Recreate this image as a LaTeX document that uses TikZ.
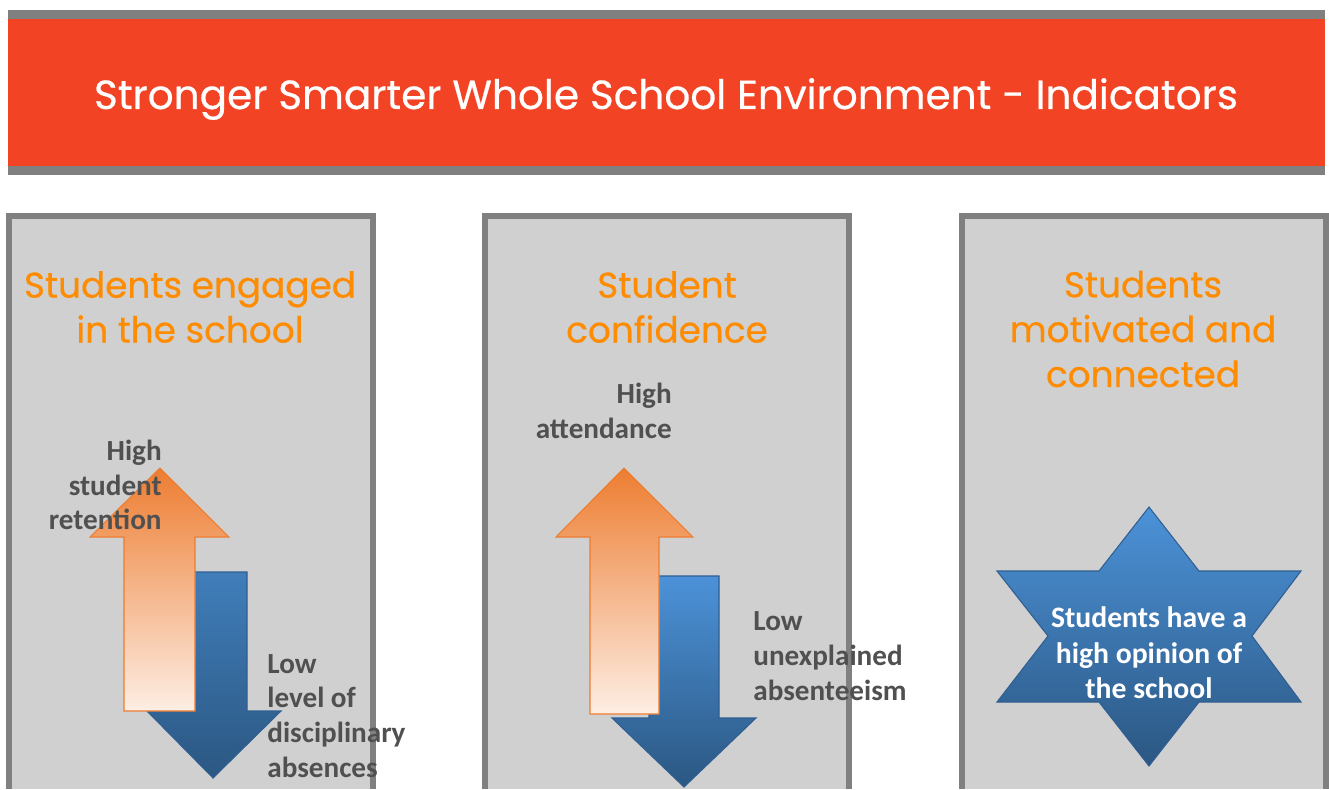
\documentclass[tikz,border=0pt]{standalone}
\usepackage{fontspec}
\usepackage{tikz}
\setmainfont{Carlito}
\newfontfamily\headfont[FakeBold=0.5]{Poppins}
\definecolor{banner}{RGB}{242,67,36}
\definecolor{edgegray}{RGB}{128,128,128}
\definecolor{panelfill}{RGB}{208,208,208}
\definecolor{headorange}{RGB}{255,140,0}
\definecolor{labelgray}{RGB}{80,80,80}
\definecolor{uptop}{RGB}{237,125,49}
\definecolor{upbottom}{RGB}{253,238,228}
\definecolor{downtop}{RGB}{64,126,186}
\definecolor{downlight}{RGB}{76,146,216}
\definecolor{downbottom}{RGB}{43,87,130}
\definecolor{downedge}{RGB}{48,94,145}
\usetikzlibrary{positioning}
\tikzset{%
  title/.style={text=white, font=\headfont\fontsize{23.1}{28}\selectfont, inner sep=0pt},
  heading/.style={align=center, text=headorange, font=\headfont\fontsize{20.4}{25.5}\selectfont, inner sep=0pt},% panel heading
  indicator/.style={text=labelgray, font=\bfseries\fontsize{16.6}{19.8}\selectfont, inner sep=0pt},% text beside arrows
  startext/.style={align=center, text=white, font=\bfseries\fontsize{16.9}{20.2}\selectfont, inner sep=0pt},
  risearrow/.style={draw=uptop, line width=0.6pt, top color=uptop, bottom color=upbottom},% orange up arrow
  droparrow/.style={draw=downedge, line width=0.6pt, top color=downtop, bottom color=downbottom}% blue down arrow
}

\begin{document}
\begin{tikzpicture}[x=0.02cm, y=-0.02cm]
\useasboundingbox (0,0) rectangle (1329,789);

% banner
\fill[edgegray] (8,10) rectangle (1325,175);
\fill[banner] (8,19) rectangle (1325,166);
\node[title] (banner) at (666,99) {Stronger Smarter Whole School Environment - Indicators};

% panels, open at the bottom
\foreach \x in {6, 482, 959} {
  \fill[edgegray] (\x,213) rectangle ++(370,576);
  \fill[panelfill] (\x+6,219) rectangle ++(358,570);
}

\node[heading] (engaged) at (190,307) {Students engaged\\in the school};
\node[heading] (confidence) at (667,307) {Student\\confidence};
\node[heading] (motivated) at (1143,329) {Students\\motivated and\\connected};

% left panel arrows
\draw[droparrow] (179,572) -- (247,572) -- (247,711) -- (281,711) -- (213,778) -- (147,711) -- (179,711) -- cycle;
\draw[risearrow] (160,468) -- (229,537) -- (195,537) -- (195,711) -- (124,711) -- (124,537) -- (90,537) -- cycle;

% middle panel arrows
\draw[droparrow, top color=downlight] (649,576) -- (719,576) -- (719,718) -- (756,718) -- (684,787) -- (612,718) -- (649,718) -- cycle;
\draw[risearrow] (624,468) -- (693,537) -- (659,537) -- (659,714) -- (590,714) -- (590,537) -- (556,537) -- cycle;

\node[indicator, align=right, anchor=east] (retention) at (162,485) {High\\student\\retention};
\node[indicator, align=left, anchor=west] (disciplinary) at (267,716) {Low\\level of\\disciplinary\\absences};
\node[indicator, align=right, anchor=east] (attendance) at (672,411) {High\\attendance};
\node[indicator, align=left, anchor=west] (absenteeism) at (753,656) {Low\\unexplained\\absenteeism};

% right panel star
\draw[droparrow, top color=downlight] (1149,507) -- (1199,571) -- (1301,571) -- (1252,636) -- (1301,702) -- (1199,702)
  -- (1149,766) -- (1099,702) -- (997,702) -- (1048,636) -- (997,571) -- (1099,571) -- cycle;
\node[startext] (opinion) at (1149,653) {Students have a\\high opinion of\\the school};

\end{tikzpicture}
\end{document}
